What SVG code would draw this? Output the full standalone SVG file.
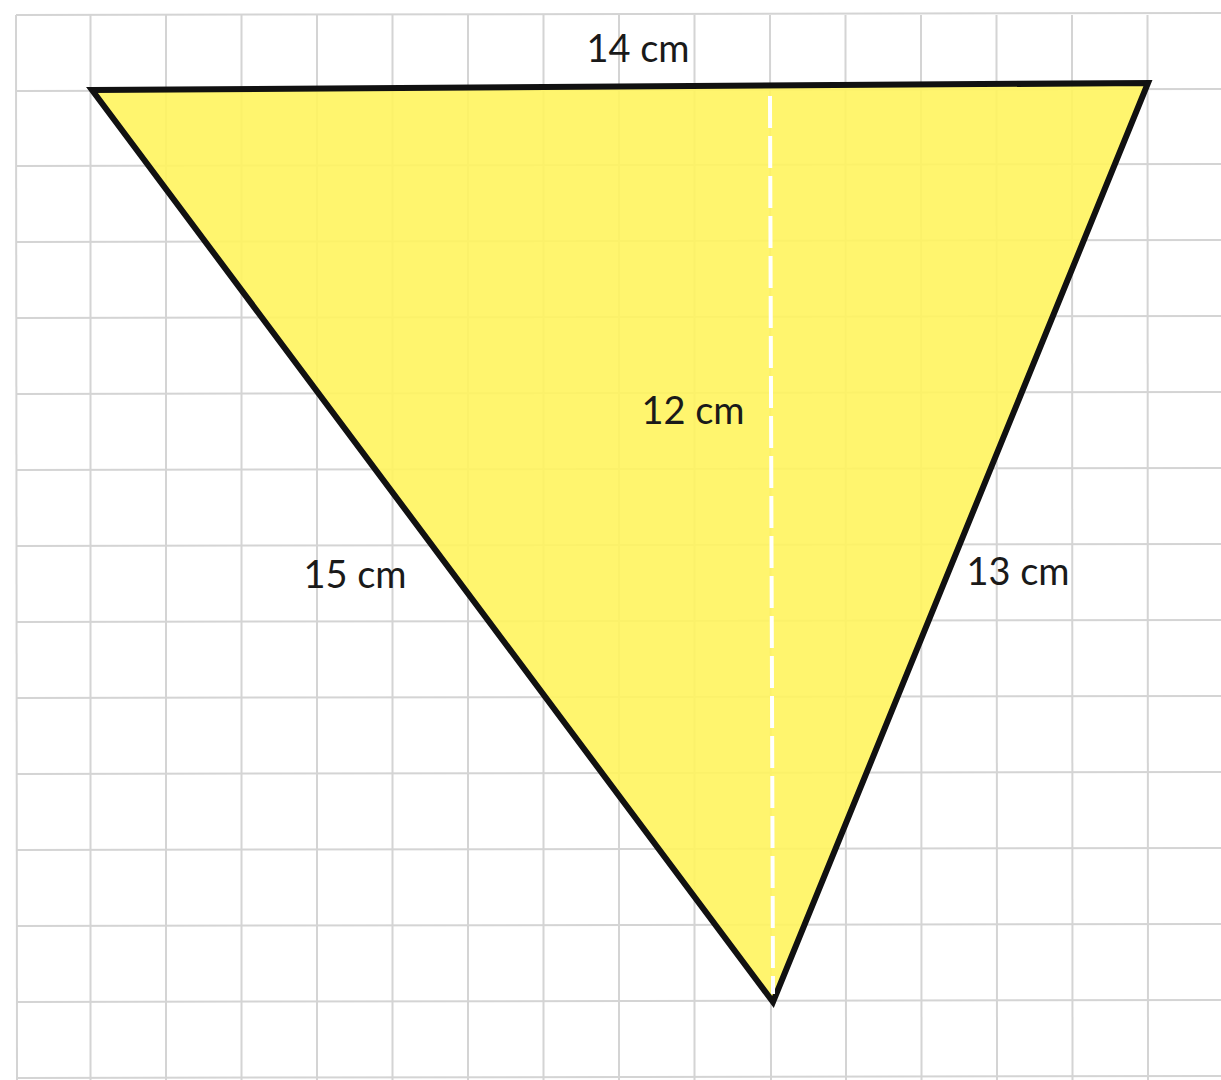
<svg xmlns="http://www.w3.org/2000/svg" width="1221" height="1080" viewBox="0 0 1221 1080">
<style>
.grid line{stroke:#d4d4d4;stroke-width:2}
.lbl{font-family:Lato,"Noto Sans",sans-serif;font-size:38px;fill:#1a1a1a;text-anchor:middle}
</style>
<rect width="1221" height="1080" fill="#ffffff"/>
<g id="grid" class="grid">
<line x1="16" y1="15" x2="17" y2="1080"/>
<line x1="90.5" y1="15" x2="90.5" y2="1080"/>
<line x1="166" y1="15" x2="166" y2="1080"/>
<line x1="241.5" y1="15" x2="241.5" y2="1080"/>
<line x1="317" y1="15" x2="317" y2="1080"/>
<line x1="392.5" y1="15" x2="392.5" y2="1080"/>
<line x1="468" y1="15" x2="468" y2="1080"/>
<line x1="543.5" y1="15" x2="543.5" y2="1080"/>
<line x1="619" y1="15" x2="619" y2="1080"/>
<line x1="694.5" y1="15" x2="694.5" y2="1080"/>
<line x1="770" y1="15" x2="771" y2="1080"/>
<line x1="845.5" y1="15" x2="846" y2="1080"/>
<line x1="921" y1="15" x2="921.5" y2="1080"/>
<line x1="996.5" y1="15" x2="997" y2="1080"/>
<line x1="1072" y1="15" x2="1072.5" y2="1080"/>
<line x1="1147.5" y1="15" x2="1148" y2="1080"/>
<line x1="16" y1="15" x2="1221" y2="13"/>
<line x1="16" y1="91" x2="1221" y2="89"/>
<line x1="16" y1="166" x2="1221" y2="164"/>
<line x1="16" y1="242" x2="1221" y2="240"/>
<line x1="16" y1="318" x2="1221" y2="316"/>
<line x1="16" y1="394" x2="1221" y2="392"/>
<line x1="16" y1="470" x2="1221" y2="468"/>
<line x1="16" y1="546" x2="1221" y2="544"/>
<line x1="16" y1="622" x2="1221" y2="620"/>
<line x1="16" y1="698" x2="1221" y2="696"/>
<line x1="16" y1="774" x2="1221" y2="772"/>
<line x1="16" y1="850" x2="1221" y2="848"/>
<line x1="16" y1="926" x2="1221" y2="924"/>
<line x1="16" y1="1002" x2="1221" y2="1000"/>
<line x1="16" y1="1078" x2="1221" y2="1076"/>
</g>
<g id="triangle">
<polygon points="92,90 1148,83 773,1002" fill="#fff45e" fill-opacity="0.9" stroke="#111111" stroke-width="6" stroke-linejoin="miter"/>
</g>
<g id="connectors">
<line x1="770" y1="96" x2="773" y2="994" stroke="#ffffff" stroke-width="4" stroke-dasharray="32 8"/>
</g>
<g id="labels">
<text class="lbl" x="638" y="62">14 cm</text>
<text class="lbl" x="693" y="424">12 cm</text>
<text class="lbl" x="355" y="588">15 cm</text>
<text class="lbl" x="1018" y="585">13 cm</text>
</g>
</svg>
